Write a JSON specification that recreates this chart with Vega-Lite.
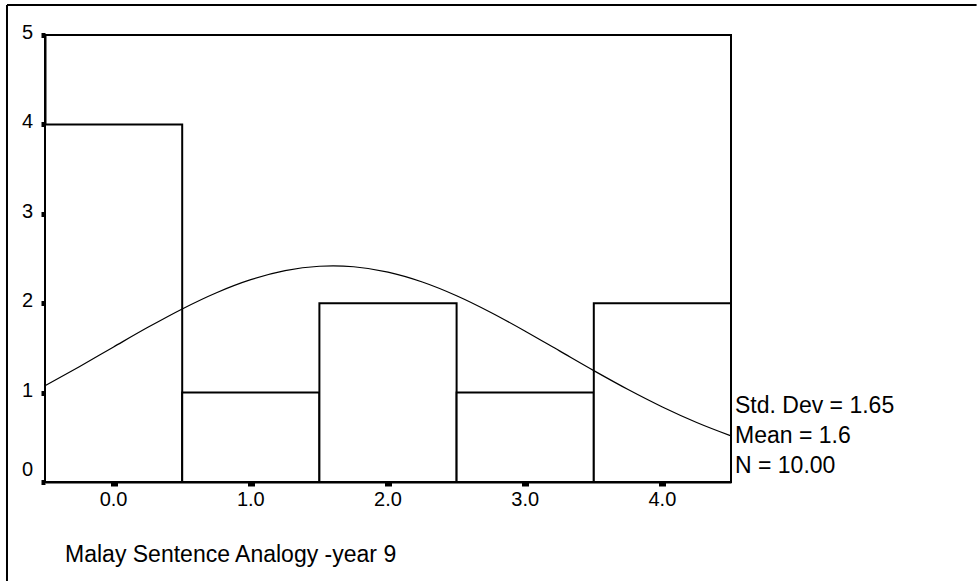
{
  "$schema": "https://vega.github.io/schema/vega-lite/v6.json",
  "width": 686,
  "height": 447,
  "autosize": {"type": "none"},
  "padding": {"left": 45, "top": 35, "right": 246, "bottom": 99},
  "background": "white",
  "config": {
    "view": {"stroke": "black", "strokeWidth": 2},
    "font": "Liberation Sans"
  },
  "datasets": {
    "bins": [
      {"bin_start": -0.5, "bin_end": 0.5, "count": 4},
      {"bin_start": 0.5, "bin_end": 1.5, "count": 1},
      {"bin_start": 1.5, "bin_end": 2.5, "count": 2},
      {"bin_start": 2.5, "bin_end": 3.5, "count": 1},
      {"bin_start": 3.5, "bin_end": 4.5, "count": 2}
    ],
    "curve": [
      {"x": -0.5, "density": 1.0757},
      {"x": -0.25, "density": 1.2896},
      {"x": 0, "density": 1.5109},
      {"x": 0.25, "density": 1.7301},
      {"x": 0.5, "density": 1.9361},
      {"x": 0.75, "density": 2.1174},
      {"x": 1.0, "density": 2.2631},
      {"x": 1.25, "density": 2.364},
      {"x": 1.5, "density": 2.4134},
      {"x": 1.6, "density": 2.4178},
      {"x": 1.75, "density": 2.4079},
      {"x": 2.0, "density": 2.3478},
      {"x": 2.25, "density": 2.2373},
      {"x": 2.5, "density": 2.0836},
      {"x": 2.75, "density": 1.8965},
      {"x": 3.0, "density": 1.687},
      {"x": 3.25, "density": 1.4665},
      {"x": 3.5, "density": 1.246},
      {"x": 3.75, "density": 1.0345},
      {"x": 4.0, "density": 0.8395},
      {"x": 4.25, "density": 0.6658},
      {"x": 4.5, "density": 0.516}
    ],
    "xticks": [{"value": 0}, {"value": 1}, {"value": 2}, {"value": 3}, {"value": 4}],
    "yticks": [{"value": 0}, {"value": 1}, {"value": 2}, {"value": 3}, {"value": 4}, {"value": 5}]
  },
  "layer": [
    {
      "data": {"name": "bins"},
      "mark": {"type": "bar", "fill": "white", "stroke": "black", "strokeWidth": 2},
      "encoding": {
        "x": {
          "field": "bin_start",
          "type": "quantitative",
          "scale": {"domain": [-0.5, 4.5], "nice": false, "zero": false},
          "axis": {
            "values": [0, 1, 2, 3, 4],
            "labels": false,
            "title": null,
            "grid": false,
            "domainColor": "black",
            "domainWidth": 2,
            "tickColor": "black",
            "tickSize": 4,
            "tickWidth": 7
          }
        },
        "x2": {"field": "bin_end"},
        "y": {
          "field": "count",
          "type": "quantitative",
          "scale": {"domain": [0, 5], "nice": false},
          "axis": {
            "values": [0, 1, 2, 3, 4, 5],
            "labels": false,
            "title": null,
            "grid": false,
            "domainColor": "black",
            "domainWidth": 2,
            "tickColor": "black",
            "tickSize": 4,
            "tickWidth": 5
          }
        },
        "y2": {"datum": 0}
      }
    },
    {
      "data": {"name": "curve"},
      "mark": {"type": "line", "color": "black", "strokeWidth": 1.2, "interpolate": "monotone"},
      "encoding": {
        "x": {"field": "x", "type": "quantitative"},
        "y": {"field": "density", "type": "quantitative"}
      }
    },
    {
      "data": {"name": "xticks"},
      "mark": {
        "type": "text",
        "align": "center",
        "baseline": "middle",
        "dy": 18,
        "fontSize": 20,
        "font": "Liberation Sans",
        "color": "black"
      },
      "encoding": {
        "x": {"field": "value", "type": "quantitative"},
        "y": {"datum": 0, "type": "quantitative"},
        "text": {"field": "value", "type": "quantitative", "format": ".1f"}
      }
    },
    {
      "data": {"name": "yticks"},
      "transform": [{"filter": "datum.value > 0"}],
      "mark": {
        "type": "text",
        "align": "right",
        "baseline": "middle",
        "dx": -12,
        "dy": -2,
        "fontSize": 20,
        "font": "Liberation Sans",
        "color": "black"
      },
      "encoding": {
        "x": {"datum": -0.5, "type": "quantitative"},
        "y": {"field": "value", "type": "quantitative"},
        "text": {"field": "value", "type": "quantitative", "format": "d"}
      }
    },
    {
      "data": {"name": "yticks"},
      "transform": [{"filter": "datum.value === 0"}],
      "mark": {
        "type": "text",
        "align": "right",
        "baseline": "middle",
        "dx": -12,
        "dy": -12,
        "fontSize": 20,
        "font": "Liberation Sans",
        "color": "black"
      },
      "encoding": {
        "x": {"datum": -0.5, "type": "quantitative"},
        "y": {"field": "value", "type": "quantitative"},
        "text": {"field": "value", "type": "quantitative", "format": "d"}
      }
    },
    {
      "data": {"values": [{}]},
      "mark": {
        "type": "text",
        "text": ["Std. Dev = 1.65", "Mean = 1.6", "N = 10.00"],
        "align": "left",
        "baseline": "top",
        "dx": 4,
        "fontSize": 23,
        "lineHeight": 30,
        "font": "Liberation Sans",
        "color": "black"
      },
      "encoding": {
        "x": {"datum": 4.5, "type": "quantitative"},
        "y": {"datum": 0.975, "type": "quantitative"}
      }
    },
    {
      "data": {"values": [{}]},
      "mark": {
        "type": "text",
        "text": "Malay Sentence Analogy -year 9",
        "align": "left",
        "baseline": "alphabetic",
        "fontSize": 23,
        "font": "Liberation Sans",
        "color": "black"
      },
      "encoding": {
        "x": {"datum": -0.354, "type": "quantitative"},
        "y": {"datum": -0.895, "type": "quantitative"}
      }
    },
    {
      "data": {"values": [{}]},
      "mark": {"type": "rule", "color": "black", "strokeWidth": 2},
      "encoding": {
        "x": {"datum": -0.777, "type": "quantitative"},
        "y": {"datum": 5.336, "type": "quantitative"},
        "y2": {"datum": -1.11}
      }
    },
    {
      "data": {"values": [{}]},
      "mark": {"type": "rule", "color": "black", "strokeWidth": 2},
      "encoding": {
        "x": {"datum": -0.777, "type": "quantitative"},
        "x2": {"datum": 6.29},
        "y": {"datum": 5.336, "type": "quantitative"}
      }
    }
  ]
}
